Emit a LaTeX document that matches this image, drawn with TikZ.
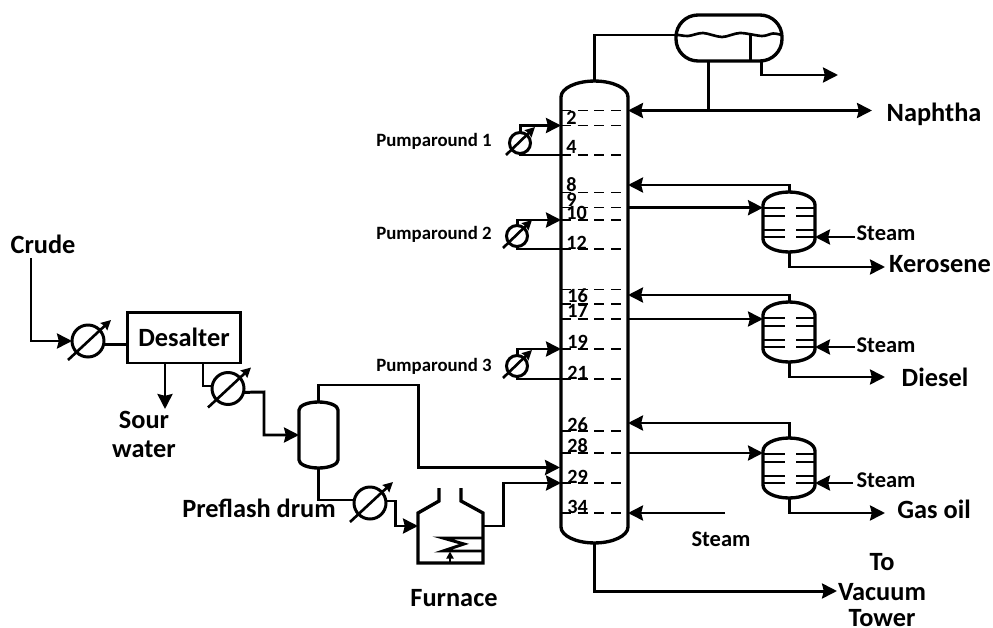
\documentclass[tikz,border=0pt]{standalone}
\usepackage{fontspec}
\setmainfont{Carlito}
\usepackage{xcolor}
\usetikzlibrary{
  arrows.meta,
  calc
}
\tikzset{
  pipe/.style={line width=1.7pt, line join=miter},
  flow/.style={pipe, -{Stealth[length=8.5pt, width=8.5pt, inset=1pt]}},
  wall/.style={line width=1.9pt},
  tray/.style={line width=0.9pt, dash pattern=on 5.7pt off 3.8pt},
  stage/.style={line width=1.6pt},
  vessel/.style={inner sep=0pt, outer sep=0pt},
  hxbig/.style={circle, draw, line width=1.7pt, inner sep=0pt, outer sep=0pt, minimum size=6.4mm},
  hxsmall/.style={circle, draw, line width=1.7pt, inner sep=0pt, outer sep=0pt, minimum size=4.2mm},
  hxarrow/.style={line width=1.5pt, -{Stealth[length=5.5pt, width=5.5pt, inset=0.5pt]}},
  biglabel/.style={font=\fontsize{15}{16}\selectfont\bfseries, inner sep=0pt, anchor=mid, yshift=-2.5pt},
  steamlabel/.style={font=\fontsize{12.8}{14}\selectfont\bfseries, inner sep=0pt, anchor=mid, yshift=-1.8pt},
  pumplabel/.style={font=\fontsize{10.7}{12}\selectfont\bfseries, inner sep=0pt, anchor=mid, yshift=-1.2pt},
  traylabel/.style={font=\fontsize{11.5}{12}\selectfont\bfseries, inner sep=0pt, anchor=base west}
}
% outline of a vessel with two caps: node, half width, cap height
\newcommand{\vesseloutline}[3]{
  \draw[wall] ($(#1.north west)+(0,#3)$) arc[start angle=180, end angle=360, x radius=#2, y radius=#3]
    -- ($(#1.south east)+(0,-#3)$) arc[start angle=0, end angle=180, x radius=#2, y radius=#3] -- cycle;
}
\begin{document}
\begin{tikzpicture}[x=0.02cm, y=-0.02cm]
  \useasboundingbox (0,0) rectangle (993,628);
  % COLUMN
  \node[vessel, minimum width=1.34cm, minimum height=9.24cm] (col) at (594.5,312) {};
  \vesseloutline{col}{33.5}{16}
  \foreach \n/\y in {t1/110.5, t2/125.5, t4/155, t8/192.7, t9/207.7, t10/220, t12/249,
                     t15/289.3, t16/304, t17/319, t19/349, t21/379, t26/431, t28/453, t29/483, t34/513} {
    \coordinate (\n) at (561,\y);
    \draw[tray] (\n) -- ++(61,0);
  }
  \node[traylabel] (n2) at (566,125) {2};
  \node[traylabel] (n4) at (566,154) {4};
  \node[traylabel] (n8) at (566,192) {8};
  \node[traylabel] (n9) at (566,207) {9};
  \node[traylabel] (n10) at (566,219) {10};
  \node[traylabel] (n12) at (566,249) {12};
  \node[traylabel] (n16) at (567,302) {16};
  \node[traylabel] (n17) at (567,317.5) {17};
  \node[traylabel] (n19) at (567,348) {19};
  \node[traylabel] (n21) at (567,379) {21};
  \node[traylabel] (n26) at (567,431) {26};
  \node[traylabel] (n28) at (567,452) {28};
  \node[traylabel] (n29) at (567,483) {29};
  \node[traylabel] (n34) at (567,513) {34};
  % OVERHEAD DRUM
  \node[vessel, draw, wall, rounded corners=12.5pt, minimum width=2.12cm, minimum height=0.92cm] (drum) at (729,38) {};
  \coordinate (drumin) at (676,35);
  \coordinate (drumout) at (761,61);
  \coordinate (naphin) at (628,110.5);
  \coordinate (naphout) at (872,110.5);
  \coordinate (gasout) at (838,75);
  \draw[line width=1.5pt] plot[smooth] coordinates {(676,34.5) (688,36) (703,33) (722,37) (740,33) (762,36) (773,33.5) (782,35)};
  \draw[pipe] (750,35) -- (750,61);
  \draw[pipe] (col.north) |- (drumin);
  \draw[flow] (drumout) |- (gasout);
  \draw[pipe] (708,61) -- (708,110.5);
  \draw[flow] (708,110.5) -- (naphin);
  \draw[flow] (708,110.5) -- (naphout);
  \node[biglabel] (naphtha) at (934,113) {Naphtha};
  % PUMPAROUNDS
  \node[hxsmall] (pa1) at (520,143) {};
  \node[hxsmall] (pa2) at (517,236) {};
  \node[hxsmall] (pa3) at (517,366) {};
  \foreach \p in {pa1, pa2, pa3} {
    \draw[hxarrow] ($(\p)+(-14,12)$) -- ($(\p)+(15,-16)$);
  }
  \draw[flow] (pa1.north) |- (t2);
  \draw[pipe] (pa1.south) |- (t4);
  \draw[flow] (pa2.north) |- (t10);
  \draw[pipe] (pa2.south) |- (t12);
  \draw[flow] (pa3.north) |- (t19);
  \draw[pipe] (pa3.south) |- (t21);
  \node[pumplabel] (lp1) at (434,140) {Pumparound 1};
  \node[pumplabel] (lp2) at (434,233) {Pumparound 2};
  \node[pumplabel] (lp3) at (434,365) {Pumparound 3};
  % STRIPPERS
  \foreach \s/\y in {s1/222, s2/332, s3/468} {
    \node[vessel, minimum width=1.04cm, minimum height=1.2cm] (\s) at (789,\y) {};
    \vesseloutline{\s}{26}{13}
    \foreach \d in {-14, -6, 8, 15} {
      \draw[stage] ($(\s.west)+(0,\d)$) -- ++(22,0);
      \draw[stage] ($(\s.east)+(0,\d)$) -- ++(-19,0);
    }
  }
  % side draws and returns
  \coordinate (r1) at (628,185);
  \coordinate (r2) at (628,295);
  \coordinate (r3) at (628,423);
  \draw[flow] (s1.north) |- (r1);
  \draw[flow] (s2.north) |- (r2);
  \draw[flow] (s3.north) |- (r3);
  \draw[flow] (t9 -| col.east) -- (t9 -| s1.west);
  \draw[flow] (t17 -| col.east) -- (t17 -| s2.west);
  \draw[flow] (t28 -| col.east) -- (t28 -| s3.west);
  % steam
  \coordinate (st1) at (855,237);
  \coordinate (st2) at (855,347);
  \coordinate (st3) at (853,483);
  \coordinate (st4) at (725,513);
  \draw[flow] (st1) -- (st1 -| s1.east);
  \draw[flow] (st2) -- (st2 -| s2.east);
  \draw[flow] (st3) -- (st3 -| s3.east);
  \draw[flow] (st4) -- (st4 -| col.east);
  \node[steamlabel] (ls1) at (886,233) {Steam};
  \node[steamlabel] (ls2) at (886,345) {Steam};
  \node[steamlabel] (ls3) at (886,480) {Steam};
  \node[steamlabel] (ls4) at (721,539) {Steam};
  % products
  \coordinate (p1) at (885,267);
  \coordinate (p2) at (885,377);
  \coordinate (p3) at (885,513);
  \coordinate (p4) at (837,591);
  \draw[flow] (s1.south) |- (p1);
  \draw[flow] (s2.south) |- (p2);
  \draw[flow] (s3.south) |- (p3);
  \draw[flow] (col.south) |- (p4);
  \node[biglabel] (kero) at (940,264) {Kerosene};
  \node[biglabel] (diesel) at (935,378) {Diesel};
  \node[biglabel] (gasoil) at (934,510) {Gas oil};
  \node[biglabel] (to) at (882,562) {To};
  \node[biglabel] (vacuum) at (882,592) {Vacuum};
  \node[biglabel] (tower) at (882,618) {Tower};
  % CRUDE TRAIN
  \node[biglabel] (crude) at (43,245) {Crude};
  \node[hxbig] (hx1) at (88,341) {};
  \node[hxbig] (hx2) at (228,388.5) {};
  \node[hxbig] (hx3) at (370,503) {};
  \foreach \p in {hx1, hx2, hx3} {
    \draw[hxarrow] ($(\p)+(-20,19)$) -- ($(\p)+(23,-21)$);
  }
  \node[draw, pipe, inner sep=0pt, outer sep=0pt, minimum width=2.27cm, minimum height=1.02cm,
        font=\fontsize{15}{16}\selectfont\bfseries] (desalter) at (184,337.5) {Desalter};
  \coordinate (crudein) at (31,258);
  \coordinate (sourout) at (165,363);
  \coordinate (sourend) at (165,409);
  \coordinate (deout) at (203,363);
  \coordinate (hx2in) at (213,386);
  \draw[flow] (crudein) |- (hx1.west);
  \draw[pipe] (hx1.-14) -- (hx1.-14 -| desalter.west);
  \draw[flow] (sourout) -- (sourend);
  \draw[pipe] (deout) |- (hx2in);
  \node[biglabel] (sour) at (144,420) {Sour};
  \node[biglabel] (water) at (144,449) {water};
  % PREFLASH DRUM
  \node[vessel, minimum width=0.78cm, minimum height=1.32cm] (flash) at (318.5,435) {};
  \vesseloutline{flash}{19.5}{8}
  \coordinate (topturn) at (418,385);
  \coordinate (topin) at (560,467.5);
  \coordinate (flashfeed) at (264,392);
  \draw[flow] (hx2.-14) -- (flashfeed) |- (flash.west);
  \draw[flow] (flash.north) |- (topturn) |- (topin);
  \coordinate (botturn) at (318.5,500);
  \draw[pipe] (flash.south) -- (botturn) -- (hx3.west |- botturn);
  \node[biglabel] (lflash) at (259,509) {Preflash drum};
  % FURNACE
  \coordinate (fin) at (418,526);
  \coordinate (fout) at (483,526);
  \coordinate (hx3turn) at (395,501);
  \draw[wall] (439,488) -- (439,501) -- (418,513) -- (418,563) -- (483,563) -- (483,513) -- (461,501) -- (461,488);
  \draw[pipe] (483,538) -- (443,538) -- (464,544) -- (443,551) -- (483,551);
  \draw[line width=1.2pt, -{Stealth[length=4pt, width=4pt, inset=0pt]}] (450,563) -- (450,551.5);
  \draw[flow] (hx3.east |- hx3turn) -- (hx3turn) |- (fin);
  \coordinate (furnturn) at (503,526);
  \draw[flow] (fout) -- (furnturn) |- (t29);
  \node[biglabel] (lfurn) at (454,598) {Furnace};
\end{tikzpicture}
\end{document}
